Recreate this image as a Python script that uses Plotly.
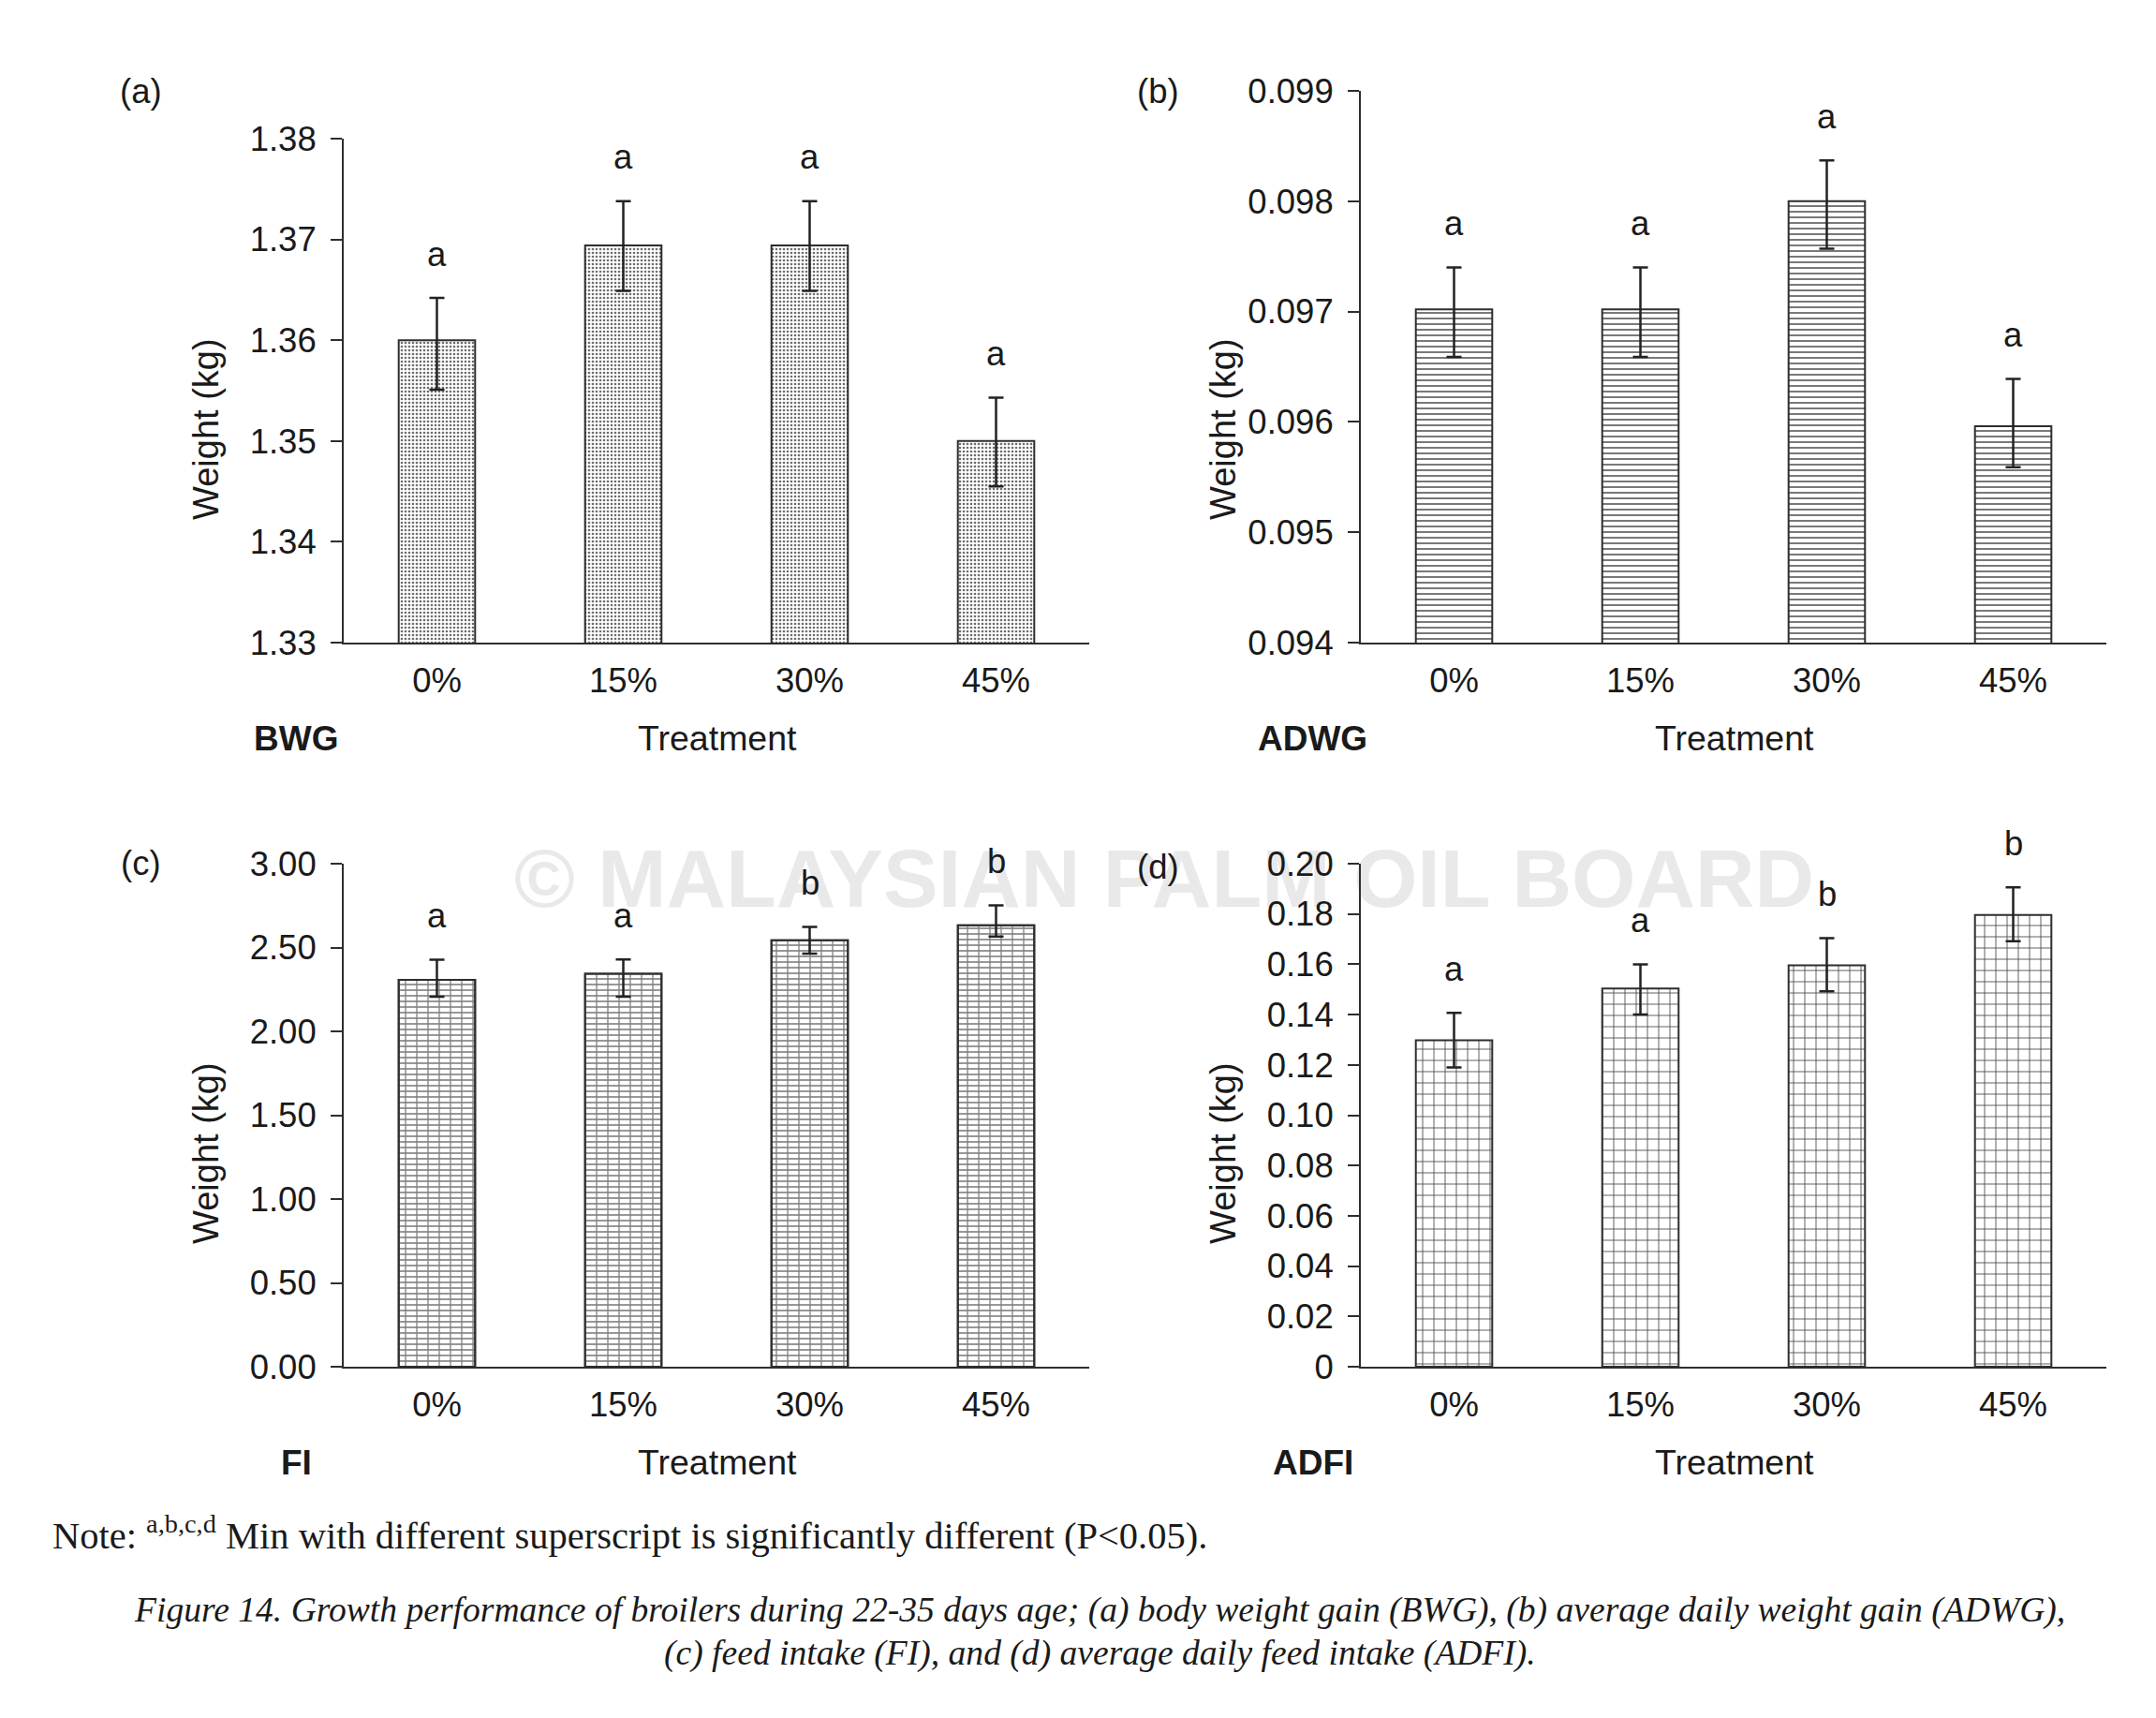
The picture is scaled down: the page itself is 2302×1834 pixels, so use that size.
import plotly.graph_objects as go

W, H = 2302, 1834

categories = ['0%', '15%', '30%', '45%']

# (a) body weight gain
bwg = [1.3600, 1.3694, 1.3694, 1.3500]
bwg_err_plus = [0.0042, 0.0044, 0.0044, 0.0043]
bwg_err_minus = [0.0049, 0.0045, 0.0045, 0.0045]
bwg_letters = ['a', 'a', 'a', 'a']
bwg_ticks = [1.33, 1.34, 1.35, 1.36, 1.37, 1.38]
bwg_ticktext = ['1.33', '1.34', '1.35', '1.36', '1.37', '1.38']

# (b) average daily weight gain
adwg = [0.09702, 0.09702, 0.09800, 0.09596]
adwg_err_plus = [0.00038, 0.00038, 0.00037, 0.00043]
adwg_err_minus = [0.00043, 0.00043, 0.00043, 0.00037]
adwg_letters = ['a', 'a', 'a', 'a']
adwg_ticks = [0.094, 0.095, 0.096, 0.097, 0.098, 0.099]
adwg_ticktext = ['0.094', '0.095', '0.096', '0.097', '0.098', '0.099']

# (c) feed intake
fi = [2.307, 2.343, 2.543, 2.632]
fi_err_plus = [0.12, 0.086, 0.08, 0.12]
fi_err_minus = [0.10, 0.136, 0.08, 0.067]
fi_letters = ['a', 'a', 'b', 'b']
fi_ticks = [0.0, 0.5, 1.0, 1.5, 2.0, 2.5, 3.0]
fi_ticktext = ['0.00', '0.50', '1.00', '1.50', '2.00', '2.50', '3.00']

# (d) average daily feed intake
adfi = [0.1298, 0.1504, 0.1596, 0.1796]
adfi_err_plus = [0.0109, 0.0096, 0.0108, 0.0110]
adfi_err_minus = [0.0108, 0.0104, 0.0103, 0.0104]
adfi_letters = ['a', 'a', 'b', 'b']
adfi_ticks = [0, 0.02, 0.04, 0.06, 0.08, 0.10, 0.12, 0.14, 0.16, 0.18, 0.20]
adfi_ticktext = ['0', '0.02', '0.04', '0.06', '0.08', '0.10', '0.12', '0.14', '0.16', '0.18', '0.20']

SANS = 'Liberation Sans, Arial, sans-serif'
SERIF = 'Liberation Serif, Times New Roman, serif'
TXT = '#1a1a1a'
LINE = '#2e2e2e'
FS = 36.5


def px(x):
    return x / W


def py(y):
    return 1 - y / H


panels = [
    dict(tag='(a)', tag_y=98, name='BWG', y=bwg, ep=bwg_err_plus, em=bwg_err_minus, letters=bwg_letters,
         ticks=bwg_ticks, ticktext=bwg_ticktext, rng=[1.33, 1.38],
         x0=367, x1=1163, ytop=148, ybot=686, pattern='dots'),
    dict(tag='(b)', tag_y=98, name='ADWG', y=adwg, ep=adwg_err_plus, em=adwg_err_minus, letters=adwg_letters,
         ticks=adwg_ticks, ticktext=adwg_ticktext, rng=[0.094, 0.099],
         x0=1453, x1=2249, ytop=97, ybot=686, pattern='hlines'),
    dict(tag='(c)', tag_y=922, name='FI', y=fi, ep=fi_err_plus, em=fi_err_minus, letters=fi_letters,
         ticks=fi_ticks, ticktext=fi_ticktext, rng=[0, 3.0],
         x0=367, x1=1163, ytop=922, ybot=1459, pattern='brick'),
    dict(tag='(d)', tag_y=925, name='ADFI', y=adfi, ep=adfi_err_plus, em=adfi_err_minus, letters=adfi_letters,
         ticks=adfi_ticks, ticktext=adfi_ticktext, rng=[0, 0.20],
         x0=1453, x1=2249, ytop=922, ybot=1459, pattern='grid'),
]

fig = go.Figure()
layout = dict(
    template=go.layout.Template(),
    width=W, height=H,
    margin=dict(l=0, r=0, t=0, b=0, pad=0, autoexpand=False),
    paper_bgcolor='white', plot_bgcolor='rgba(0,0,0,0)',
    showlegend=False, barmode='overlay',
    font=dict(family=SANS, size=FS, color=TXT),
)

# watermark on the first (bottom-most) subplot
fig.add_trace(go.Scatter(
    x=[px(1243)], y=[py(946)], mode='text',
    text=['© MALAYSIAN PALM OIL BOARD'],
    textfont=dict(family=SANS, size=88, color='#e9e9e9', weight='bold'),
    textposition='middle center', xaxis='x', yaxis='y', hoverinfo='skip'))
layout['xaxis'] = dict(domain=[0, 1], range=[0, 1], visible=False, fixedrange=True, automargin=False)
layout['yaxis'] = dict(domain=[0, 1], range=[0, 1], visible=False, fixedrange=True, automargin=False)

annotations = []
BW = 0.41

for i, p in enumerate(panels):
    n = i + 2
    xa, ya = f'x{n}', f'y{n}'
    err = dict(type='data', symmetric=False, array=p['ep'], arrayminus=p['em'],
               color='#222222', thickness=2.5, width=8)
    line = dict(color=LINE, width=2)
    if p['pattern'] == 'dots':
        pat = dict(shape='.', size=4, solidity=0.35, fgcolor='#6e6e6e', bgcolor='white')
    elif p['pattern'] == 'hlines':
        pat = dict(shape='-', size=6, solidity=0.3, fgcolor='#6a6a6a', bgcolor='white')
    elif p['pattern'] == 'brick':
        pat = dict(shape='-', size=6, solidity=0.24, fgcolor='#707070', bgcolor='white')
    else:
        pat = dict(shape='+', size=12, solidity=0.14, fgcolor='#4a4a4a', bgcolor='white')
    fig.add_trace(go.Bar(x=categories, y=p['y'], width=BW, xaxis=xa, yaxis=ya,
                         marker=dict(color='white', line=line, pattern=pat),
                         error_y=err if p['pattern'] != 'brick' else None))
    if p['pattern'] == 'brick':
        fig.add_trace(go.Bar(x=categories, y=p['y'], width=BW, xaxis=xa, yaxis=ya,
                             marker=dict(color='rgba(0,0,0,0)', line=line,
                                         pattern=dict(shape='|', size=12, solidity=0.11,
                                                      fgcolor='#808080', bgcolor='rgba(0,0,0,0)')),
                             error_y=err))

    xdom = [px(p['x0']), px(p['x1'])]
    ydom = [py(p['ybot']), py(p['ytop'])]
    layout[f'xaxis{n}'] = dict(
        domain=xdom, anchor=ya, range=[-0.5, 3.5], type='category', automargin=False,
        showline=True, linecolor=LINE, linewidth=2, ticks='', showgrid=False,
        tickfont=dict(size=FS, color=TXT), ticklabelstandoff=7, fixedrange=True)
    layout[f'yaxis{n}'] = dict(
        domain=ydom, anchor=xa, range=p['rng'], tickvals=p['ticks'], ticktext=p['ticktext'],
        automargin=False,
        showline=True, linecolor=LINE, linewidth=2, ticks='outside', ticklen=12,
        tickwidth=2, tickcolor=LINE, showgrid=False, zeroline=False,
        tickfont=dict(size=FS, color=TXT), ticklabelstandoff=8, fixedrange=True)

    # significance letters
    for c, v, e, L in zip(categories, p['y'], p['ep'], p['letters']):
        annotations.append(dict(x=c, y=v + e, xref=xa, yref=ya, text=L, showarrow=False,
                                yanchor='middle', yshift=47, font=dict(size=FS, color=TXT)))

    # panel tag
    annotations.append(dict(x=px(p['x0'] - 217), y=py(p['tag_y']),
                            xref='paper', yref='paper', text=p['tag'], showarrow=False,
                            xanchor='center', yanchor='middle', font=dict(size=FS, color=TXT)))
    # y title
    annotations.append(dict(x=px(p['x0'] - 147), y=py(p['ybot'] - 228), xref='paper', yref='paper',
                            text='Weight (kg)', textangle=-90, showarrow=False,
                            xanchor='center', yanchor='middle', font=dict(size=38, color=TXT)))
    # x title
    annotations.append(dict(x=px(p['x0'] + 399), y=py(p['ybot'] + 102), xref='paper', yref='paper',
                            text='Treatment', showarrow=False, xanchor='center', yanchor='middle',
                            font=dict(size=37.5, color=TXT)))
    # panel name
    annotations.append(dict(x=px(p['x0'] - 51), y=py(p['ybot'] + 102), xref='paper', yref='paper',
                            text=f'<b>{p["name"]}</b>', showarrow=False, xanchor='center',
                            yanchor='middle', font=dict(size=37, color=TXT)))

annotations.append(dict(x=px(54), y=py(1636), xref='paper', yref='paper', xanchor='left',
                        yanchor='middle', showarrow=False,
                        text='Note: <sup>a,b,c,d</sup> Min with different superscript is significantly different (P<0.05).',
                        font=dict(family=SERIF, size=40.5, color=TXT)))
annotations.append(dict(x=px(1174), y=py(1719), xref='paper', yref='paper', xanchor='center',
                        yanchor='middle', showarrow=False,
                        text='<i>Figure 14. Growth performance of broilers during 22-35 days age; (a) body weight gain (BWG), (b) average daily weight gain (ADWG),</i>',
                        font=dict(family=SERIF, size=37.6, color=TXT)))
annotations.append(dict(x=px(1174), y=py(1765), xref='paper', yref='paper', xanchor='center',
                        yanchor='middle', showarrow=False,
                        text='<i>(c) feed intake (FI), and (d) average daily feed intake (ADFI).</i>',
                        font=dict(family=SERIF, size=37.6, color=TXT)))

layout['annotations'] = annotations
fig.update_layout(**layout)
fig.write_html('out.html')
